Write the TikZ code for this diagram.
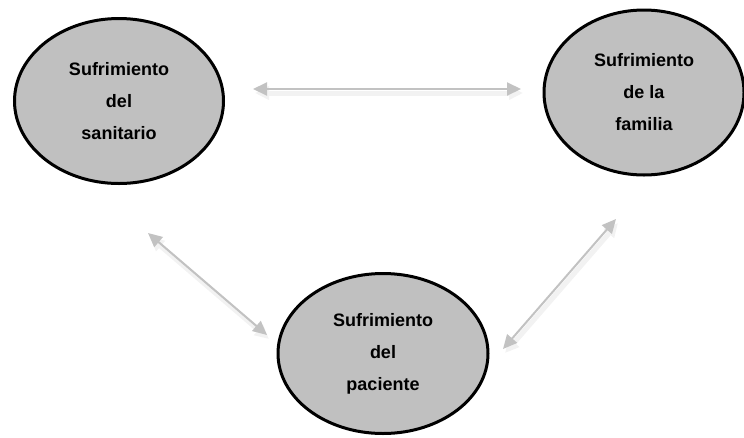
\documentclass[tikz,border=0pt]{standalone}
\usepackage{fontspec}
\setmainfont{Liberation Sans}
\usepackage{xcolor}
\usepackage{tikz}
\usetikzlibrary{arrows.meta,shapes.geometric}
\definecolor{bubblegray}{HTML}{C0C0C0}
\definecolor{linkgray}{HTML}{C2C2C2}

\begin{document}
\begin{tikzpicture}[
    x=1pt, y=-1pt,
    font=\bfseries\fontsize{18}{32}\selectfont,
    every node/.style={align=center},
    bubble/.style={
        ellipse,
        draw=black,
        line width=3pt,
        fill=bubblegray,
        minimum width=#1,
        minimum height=165pt,
        inner sep=0pt
    },
    link/.style={
        draw=linkgray,
        line width=2pt,
        {Triangle[length=14pt,width=13pt]}-{Triangle[length=14pt,width=13pt]},
        preaction={draw=black!5, line width=5pt,
            transform canvas={shift={(2,4)}}}
    },
]

\useasboundingbox (0,0) rectangle (744,437);

\node[bubble=209pt] (sanitario) at (119,101)   {Sufrimiento\\del\\sanitario};
\node[bubble=200pt] (familia)   at (644,92.5)  {Sufrimiento\\de la\\familia};
\node[bubble=210pt, minimum height=160pt] (paciente) at (383,353.5) {Sufrimiento\\del\\paciente};

\draw[link] ([shift={(134,-12)}]sanitario.center) -- ([shift={(-123,-3.5)}]familia.center);
\draw[link] ([shift={(29,132)}]sanitario.center) -- ([shift={(-116,-18.5)}]paciente.center);
\draw[link] ([shift={(-28,126.5)}]familia.center) -- ([shift={(120,-4.5)}]paciente.center);

\end{tikzpicture}
\end{document}
